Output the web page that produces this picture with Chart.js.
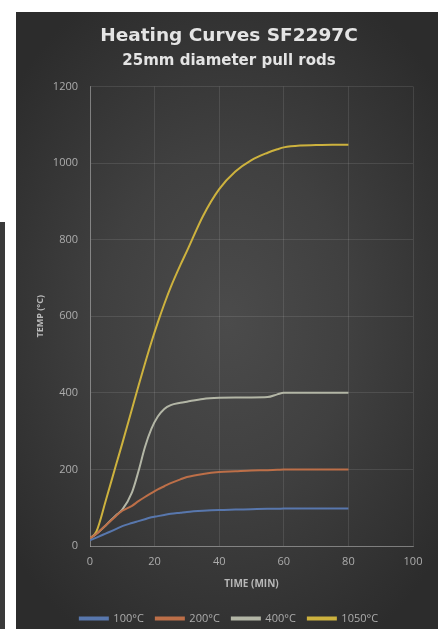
<!DOCTYPE html>
<html>
<head>
<meta charset="utf-8">
<script src="https://cdn.jsdelivr.net/npm/chart.js@4"></script>
<style>
  html, body { margin: 0; padding: 0; background: #fff; overflow: hidden; }
  #wrap { position: relative; width: 444px; height: 629px; overflow: hidden; }
  /* 왼쪽 어두운 띠 */
  #strip { position: absolute; left: 0; top: 222px; width: 5px; height: 407px; background: #3a3a3a; }
  /* 차트 패널 배경 */
  #panel {
    position: absolute; left: 16px; top: 12px; width: 422px; height: 617px;
    background: radial-gradient(ellipse 65% 60% at 50% 50%, #4b4b4b 0%, #404040 45%, #2c2c2c 100%);
  }
  #chart { position: absolute; left: 0; top: 0; }
</style>
</head>
<body>
<div id="wrap">
  <div id="strip"></div>
  <div id="panel"></div>
  <canvas id="chart" width="444" height="634"></canvas>
</div>
<script>
// 시간 (분)
const timeMin = [0, 2, 5, 8, 10, 13, 15, 17, 19, 21, 23, 25, 28, 30, 35, 40, 45, 50, 55, 58, 60, 65, 70, 75, 80];

// 각 설정 온도별 측정 온도
const temp100 = [15, 22, 33, 44, 52, 60, 65, 70, 75, 78, 81, 84, 87, 89, 92, 94, 95, 96, 97, 97, 98, 98, 98, 98, 98];
const temp200 = [20, 32, 55, 78, 92, 105, 117, 128, 138, 148, 156, 164, 174, 180, 188, 193, 195, 197, 198, 199, 200, 200, 200, 200, 200];
const temp400 = [20, 32, 55, 80, 95, 140, 195, 258, 306, 338, 358, 368, 374, 377, 384, 387, 388, 388, 389, 396, 400, 400, 400, 400, 400];
const temp1050 = [20, 38, 122, 210, 268, 358, 418, 476, 532, 584, 632, 676, 734, 770, 862, 932, 978, 1008, 1027, 1036, 1041, 1046, 1047, 1048, 1048];

const seriesNames = ["100°C", "200°C", "400°C", "1050°C"];
const yTicks = [0, 200, 400, 600, 800, 1000, 1200];
const xTicks = [0, 20, 40, 60, 80, 100];

const lineColors = ["#5877ad", "#bd6f48", "#b3b6a6", "#cdb23e"];
const allTemps = [temp100, temp200, temp400, temp1050];

// 시간과 온도를 점으로 묶기
function toPoints(temps) {
  return timeMin.map(function (t, i) {
    return { x: t, y: temps[i] };
  });
}

const datasets = allTemps.map(function (temps, i) {
  return {
    label: seriesNames[i],
    data: toPoints(temps),
    borderColor: lineColors[i],
    backgroundColor: lineColors[i],
    borderWidth: 2,
    pointRadius: 0,
    cubicInterpolationMode: "monotone"
  };
});

const ctx = document.getElementById("chart").getContext("2d");
const chart = new Chart(ctx, {
  type: "line",
  data: { datasets: datasets },
  options: {
    responsive: false,
    animation: false,
    layout: { padding: { left: 45, right: 31, top: 0, bottom: 0 } },
    plugins: {
      title: {
        display: true,
        text: "Heating Curves SF2297C",
        color: "#e4e4e4",
        font: { family: "DejaVu Sans", size: 18.5, weight: "bold", lineHeight: 1.2 },
        padding: { top: 25.5, bottom: 2 }
      },
      subtitle: {
        display: true,
        text: "25mm diameter pull rods",
        color: "#e4e4e4",
        font: { family: "DejaVu Sans", size: 15, weight: "bold", lineHeight: 1.2 },
        padding: { top: 2.8, bottom: 16 }
      },
      legend: {
        position: "bottom",
        labels: {
          color: "#acacac",
          font: { family: "Open Sans", size: 11 },
          boxWidth: 28,
          boxHeight: 2,
          padding: 12
        }
      },
      tooltip: { enabled: false }
    },
    scales: {
      x: {
        type: "linear",
        min: 0,
        max: 100,
        afterBuildTicks: function (s) {
          s.ticks = xTicks.map(function (v) { return { value: v }; });
        },
        afterFit: function (s) { s.height = 55; },
        grid: { color: "rgba(255,255,255,0.10)", drawTicks: false },
        border: { color: "rgba(255,255,255,0.30)" },
        ticks: {
          color: "#acacac",
          font: { family: "Open Sans", size: 11 },
          padding: 9,
          callback: function (v) { return String(v); }
        },
        title: {
          display: true,
          text: "TIME (MIN)",
          color: "#b8b8b8",
          font: { family: "Open Sans", size: 10, weight: "bold", lineHeight: 1.2 },
          padding: { top: 0, bottom: 11 }
        }
      },
      y: {
        min: 0,
        max: 1200,
        afterBuildTicks: function (s) {
          s.ticks = yTicks.map(function (v) { return { value: v }; });
        },
        afterFit: function (s) { s.width = 45; },
        grid: { color: "rgba(255,255,255,0.10)", drawTicks: false },
        border: { color: "rgba(255,255,255,0.30)" },
        ticks: {
          color: "#acacac",
          font: { family: "Open Sans", size: 11 },
          padding: 12,
          callback: function (v) { return String(v); }
        },
        title: {
          display: true,
          text: "TEMP (°C)",
          color: "#b8b8b8",
          font: { family: "Open Sans", size: 9, weight: "bold", lineHeight: 1.2 },
          padding: { top: -10.4, bottom: 0 }
        }
      }
    }
  }
});
</script>
</body>
</html>
